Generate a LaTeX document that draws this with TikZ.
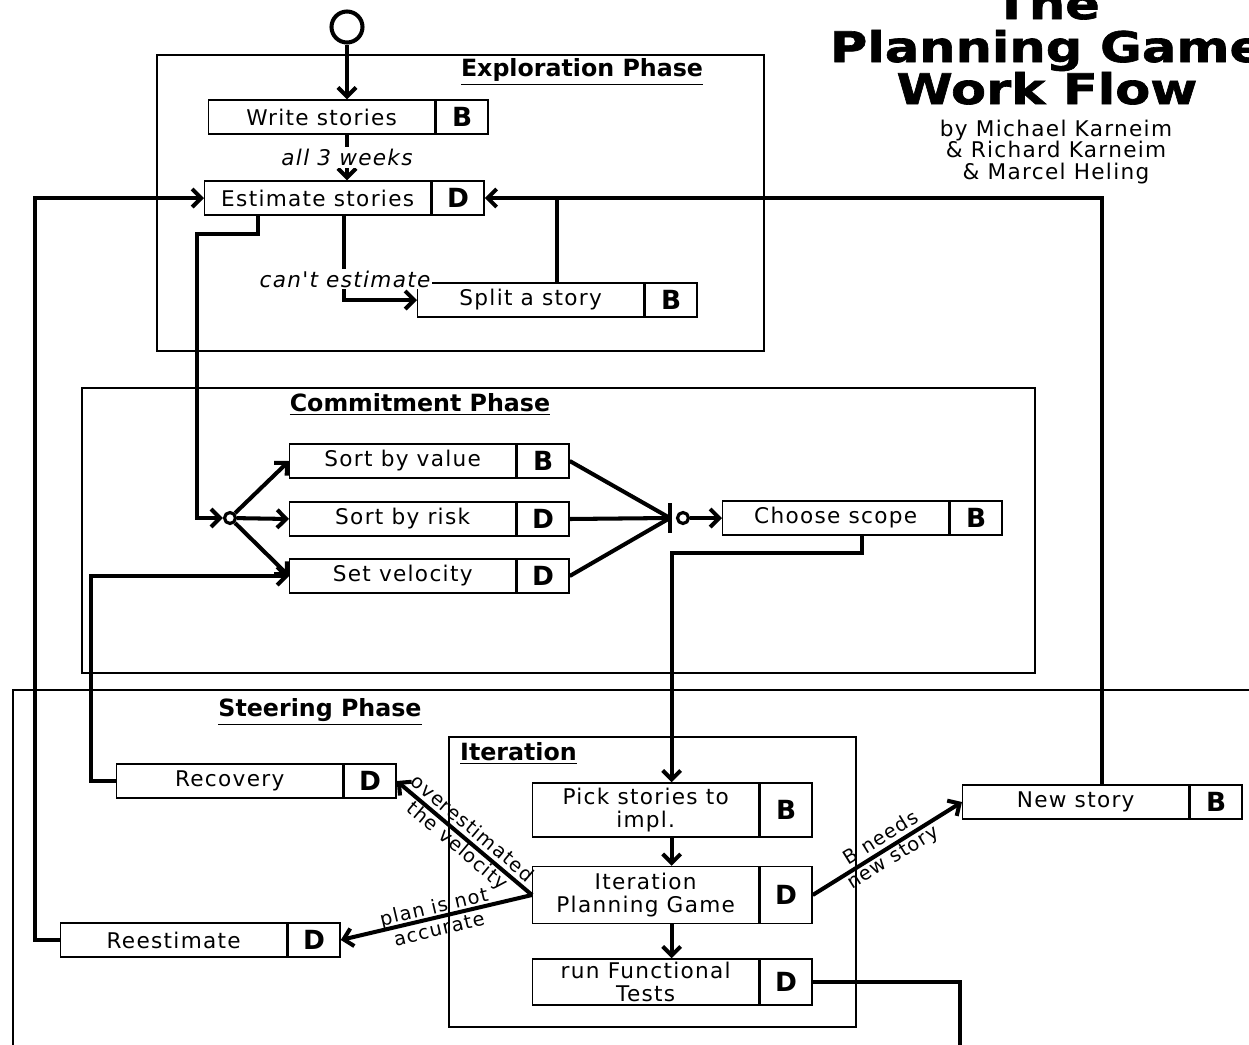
\documentclass[tikz,border=0pt]{standalone}
\usepackage{fontspec}
\setmainfont{DejaVu Sans}
\newfontfamily\boxfont[LetterSpace=6]{DejaVu Sans}
\newfontfamily\headfont[FakeStretch=1.21, FakeBold=1.5]{DejaVu Sans Bold}
\usetikzlibrary{positioning,arrows.meta}

\tikzset{
  task/.style={draw, line width=0.8pt, minimum width=4.52cm, minimum height=0.68cm,
    inner sep=0pt, align=center, font=\boxfont\fontsize{12.3}{13}\selectfont},
  who/.style={draw, line width=0.8pt, minimum width=1.04cm, minimum height=0.68cm,
    inner sep=0pt, font=\fontsize{15}{15}\selectfont\bfseries},
  phase/.style={font=\fontsize{13.5}{16}\selectfont\bfseries},
  frame/.style={line width=0.8pt},
  line/.style={line width=2.3pt},
  flow/.style={line width=2.3pt, -{Straight Barb[length=0.18cm, width=0.36cm]}},
  lbl/.style={font=\boxfont\itshape\fontsize{12.3}{12.5}\selectfont, inner sep=1pt},
  slbl/.style={font=\boxfont\fontsize{11}{13}\selectfont, align=center, inner sep=0pt},
  dot/.style={circle, draw, line width=1.8pt, minimum size=0.22cm, inner sep=0pt},
  headline/.style={anchor=base, font=\headfont\fontsize{24}{24}\selectfont},
}

\begin{document}
\begin{tikzpicture}[x=0.02cm, y=-0.02cm]
\useasboundingbox (0,0) rectangle (1249,1045);
\clip (0,0) rectangle (1249,1045);

% title
\node[headline] (title1) at (1047,19) {The};
\node[headline] (title2) at (1047,62) {Planning Game};
\node[headline] (title3) at (1047,104) {Work Flow};
\node[slbl, font=\boxfont\fontsize{12.3}{12}\selectfont] (authors) at (1056,152)
  {by Michael Karneim\\\& Richard Karneim\\\& Marcel Heling};

% phases
\draw[frame] (157,55) rectangle (764,351);
\node[phase] (explo) at (582,72) {\underline{Exploration Phase}};
\draw[frame] (82,388) rectangle (1035,673);
\node[phase] (commit) at (420,404) {\underline{Commitment Phase}};
\draw[frame] (1260,690) -- (13,690) -- (13,1060);
\node[phase] (steer) at (320,712) {\underline{Steering Phase}};
\draw[frame] (449,737) rectangle (856,1027);
\node[phase, anchor=west] (iter) at (454,753) {\underline{Iteration}};

% start
\node[circle, draw, line width=2.3pt, minimum size=0.62cm, inner sep=0pt] (start) at (347,27) {};

% tasks
\node[task, anchor=west] (write) at (208,117) {Write stories};
\node[who, right=0pt of write] (writeB) {B};
\node[task, anchor=west] (est) at (204,198) {Estimate stories};
\node[who, right=0pt of est] (estD) {D};
\node[task, anchor=west] (split) at (417,300) {Split a story};
\node[who, right=0pt of split] (splitB) {B};

\node[task, anchor=west] (value) at (289,461) {Sort by value};
\node[who, right=0pt of value] (valueB) {B};
\node[task, anchor=west] (risk) at (289,519) {Sort by risk};
\node[who, right=0pt of risk] (riskD) {D};
\node[task, anchor=west] (velo) at (289,576) {Set velocity};
\node[who, right=0pt of velo] (veloD) {D};
\node[task, anchor=west] (scope) at (722,518) {Choose scope};
\node[who, right=0pt of scope] (scopeB) {B};

\node[task, anchor=west] (recov) at (116,781) {Recovery};
\node[who, right=0pt of recov] (recovD) {D};
\node[task, anchor=west] (reest) at (60,940) {Reestimate};
\node[who, right=0pt of reest] (reestD) {D};
\node[task, anchor=west, minimum height=1.08cm] (pick) at (532,810) {Pick stories to\\impl.};
\node[who, right=0pt of pick, minimum height=1.08cm] (pickB) {B};
\node[task, anchor=west, minimum height=1.14cm] (ipg) at (532,895) {Iteration\\Planning Game};
\node[who, right=0pt of ipg, minimum height=1.14cm] (ipgD) {D};
\node[task, anchor=west, minimum height=0.92cm] (rft) at (532,982) {run Functional\\Tests};
\node[who, right=0pt of rft, minimum height=0.92cm] (rftD) {D};
\node[task, anchor=west] (news) at (962,802) {New story};
\node[who, right=0pt of news] (newsB) {B};

% fork and join
\node[dot] (fork) at (230,518) {};
\node[dot] (join) at (683,518) {};
\node[fill, minimum width=0.07cm, minimum height=0.6cm, inner sep=0pt] (bar) at (670,518) {};
\coordinate (exit) at (960,1060);

% exploration
\draw[flow] (start) -- (start |- write.north);
\draw[flow] (start |- write.south) -- node[lbl, fill=white] (weeks) {all 3 weeks} (start |- est.north);
\draw[flow] ([xshift=0.52cm]est.south) |- (split.west);
\node[lbl, fill=white] (cant) at (345,279) {can't estimate};
\draw[line] ([xshift=0.52cm]split.north) -- ([xshift=0.52cm]split.north |- estD.east);
\draw[flow] ([xshift=0.52cm]news.north) |- (estD.east);
\draw[flow] (reest.west) -- ++(-25,0) |- (est.west);

% commitment
\draw[flow] ([xshift=-1.19cm]est.south) |- ++(-61,18) |- (fork.west);
\draw[flow] (fork) -- (value.west);
\draw[flow] (fork) -- (risk.west);
\draw[flow] (fork) -- (velo.west);
\draw[line] (valueB.east) -- (bar.center);
\draw[line] (riskD.east) -- (bar.center);
\draw[line] (veloD.east) -- (bar.center);
\draw[flow] (join) -- (scope.west);
\draw[flow] (recov.west) -- ++(-25,0) |- (velo.west);

% steering
\draw[flow] ([xshift=0.52cm]scope.south) -- ++(0,17) -| ([xshift=0.52cm]pick.north);
\draw[flow] ([xshift=0.52cm]pick.south) -- ([xshift=0.52cm]ipg.north);
\draw[flow] ([xshift=0.52cm]ipg.south) -- ([xshift=0.52cm]rft.north);
\draw[flow] (ipg.west) -- node[slbl, sloped] (over) {overestimated\\the velocity} (recovD.east);
\draw[flow] (ipg.west) -- node[slbl, sloped] (plan) {plan is not\\accurate} (reestD.east);
\draw[flow] (ipgD.east) -- node[slbl, sloped] (needs) {B needs\\new story} (news.west);
\draw[line] (rftD.east) -| (exit);

\end{tikzpicture}
\end{document}
